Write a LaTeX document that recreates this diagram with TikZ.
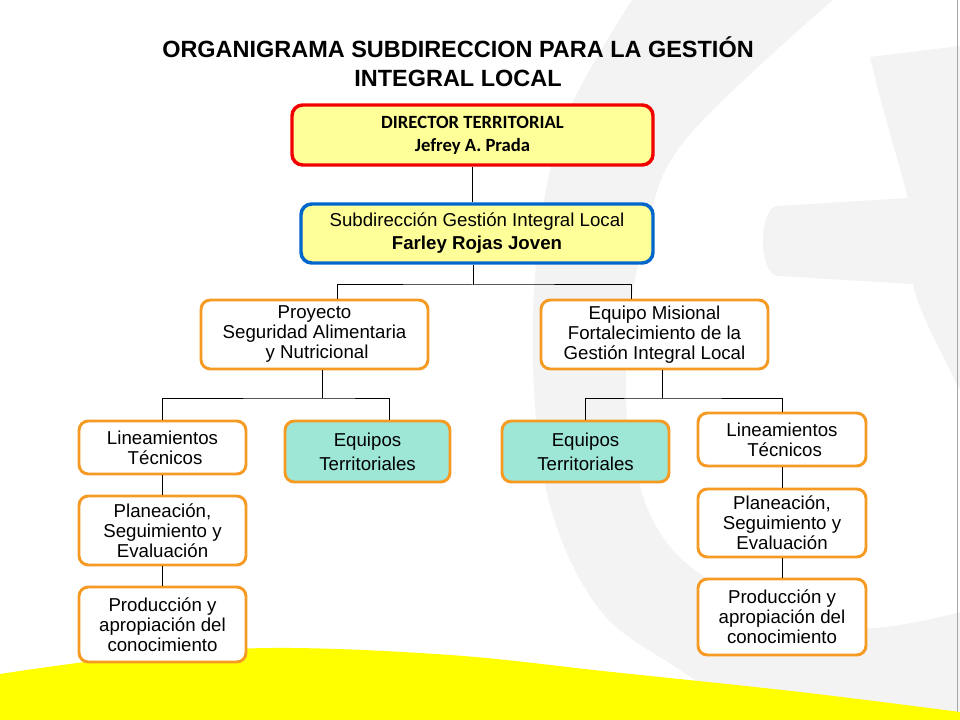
\documentclass[tikz,border=0pt]{standalone}
\usepackage{fontspec}
\setmainfont{Liberation Sans}
\newfontfamily\calibri{Carlito}
\usepackage{xcolor}
\usepackage{tikz}
\usetikzlibrary{calc}

\definecolor{boxyellow}{HTML}{FFFF99}
\definecolor{boxred}{HTML}{F20000}
\definecolor{boxblue}{HTML}{0066CC}
\definecolor{boxorange}{HTML}{F59A23}
\definecolor{boxteal}{HTML}{9EE7D7}
\definecolor{wmgray}{HTML}{F3F3F3}
\definecolor{swoosh}{HTML}{FFFF00}

\begin{document}
\begin{tikzpicture}[x=0.75pt, y=-0.75pt,
		unitbox/.style={draw=boxorange, line width=2.2pt, rounded corners=7pt, fill=white,
			align=center, inner sep=0pt, font=\fontsize{14}{15}\selectfont},
		teambox/.style={unitbox, fill=boxteal, font=\fontsize{14}{18}\selectfont},
		headbox/.style={unitbox, fill=boxyellow, line width=2.6pt, rounded corners=8pt,
			font=\fontsize{14}{17.25}\selectfont},
		link/.style={draw=black, line width=0.75pt}]
	
	\useasboundingbox (0,0) rectangle (960,720);
	\fill[white] (0,0) rectangle (960,720);
	
	% ---------- Background (watermark + swoosh) ----------
	\fill[wmgray] plot[smooth, tension=0.6] coordinates {(632,0) (567,115) (540,229) (533,367) (550,505) (600,610) (680,670) (760,720)} -- (960,720) -- (960,0) -- cycle;
	\fill[white] plot[smooth, tension=0.6] coordinates {(833,0) (687,138) (647,229) (627,344) (633,459) (673,550) (767,610) (867,628) (960,612)} -- (960,0) -- cycle;
	\fill[wmgray] (870,57) -- (960,46) -- (960,390) .. controls (940,350) and (918,310) .. (913,284)
		-- (778,276) .. controls (758,275) and (758,206) .. (778,206) -- (908,198)
		.. controls (895,150) and (880,100) .. (870,57) -- cycle;
	\draw[gray!70, line width=0.8pt] (957.5,0) -- (957.5,712);
	\fill[swoosh] plot[smooth, tension=0.6] coordinates {(0,674) (120,658) (270,648) (450,655) (612,672) (800,692) (960,712)} -- (960,720) -- (0,720) -- cycle;
	
	% ---------- Title ----------
	\node[align=center, font=\fontsize{17.6}{21.75}\selectfont\bfseries] (ttl) at (458,61.5)
		{ORGANIGRAMA SUBDIRECCION PARA LA GESTIÓN\\INTEGRAL LOCAL};
	
	% ---------- Direction ----------
	\node[headbox, draw=boxred, minimum width=270.75pt, minimum height=45pt,
		font={\fontsize{14}{17.25}\calibri\bfseries}] (dir) at (472.5,135)
		{DIRECTOR TERRITORIAL\\Jefrey A. Prada};
	\node[headbox, draw=boxblue, minimum width=264pt, minimum height=44.25pt] (sub) at (477,233.5)
		{Subdirección Gestión Integral Local\\\textbf{Farley Rojas Joven}};
	
	% ---------- Second level ----------
	\node[unitbox, minimum width=170.25pt, minimum height=51.75pt] (proy) at (314.5,334.5)
		{Proyecto\\Seguridad Alimentaria\\\ y Nutricional};
	\node[unitbox, minimum width=170.25pt, minimum height=51.75pt] (mis) at (654.5,334.5)
		{Equipo Misional\\Fortalecimiento de la\\Gestión Integral Local};
	
	% ---------- Left branch ----------
	\node[unitbox, minimum width=125.25pt, minimum height=39.75pt] (linL) at (162.5,447.5)
		{Lineamientos\\\ Técnicos};
	\node[teambox, minimum width=123.75pt, minimum height=45.75pt] (eqL) at (367.5,451.5)
		{Equipos\\Territoriales};
	\node[unitbox, minimum width=125.25pt, minimum height=51.75pt] (plaL) at (162.5,530.5)
		{Planeación,\\Seguimiento y\\Evaluación};
	\node[unitbox, minimum width=125.25pt, minimum height=56.25pt] (proL) at (162.5,624.5)
		{Producción y\\apropiación del\\conocimiento};
	
	% ---------- Right branch ----------
	\node[teambox, minimum width=125.25pt, minimum height=45.75pt] (eqR) at (585.5,451.5)
		{Equipos\\Territoriales};
	\node[unitbox, minimum width=126pt, minimum height=39.75pt] (linR) at (782,439.5)
		{Lineamientos\\\ Técnicos};
	\node[unitbox, minimum width=126pt, minimum height=51pt] (plaR) at (782,523)
		{Planeación,\\Seguimiento y\\Evaluación};
	\node[unitbox, minimum width=126pt, minimum height=57pt] (proR) at (782,617)
		{Producción y\\apropiación del\\conocimiento};
	
	% ---------- Connectors ----------
	\coordinate (bus) at (473,285);
	\coordinate (busL) at (322,398);
	\coordinate (busR) at (662,398);
	\draw[link] (dir.south) -- (dir.south |- sub.north);
	\draw[link] (bus |- sub.south) -- (bus);
	\draw[link] ($(proy.north)+(22.5,0)$) |- (bus) -| ($(mis.north)+(-23.5,0)$);
	\draw[link] (busL |- proy.south) -- (busL);
	\draw[link] (linL.north) |- (busL) -| ($(eqL.north)+(21.5,0)$);
	\draw[link] (busR |- mis.south) -- (busR);
	\draw[link] (eqR.north) |- (busR) -| (linR.north);
	\foreach \a/\b in {linL/plaL, plaL/proL, linR/plaR, plaR/proR} {
		\draw[link] (\a) -- (\b);
	}
	
\end{tikzpicture}
\end{document}
